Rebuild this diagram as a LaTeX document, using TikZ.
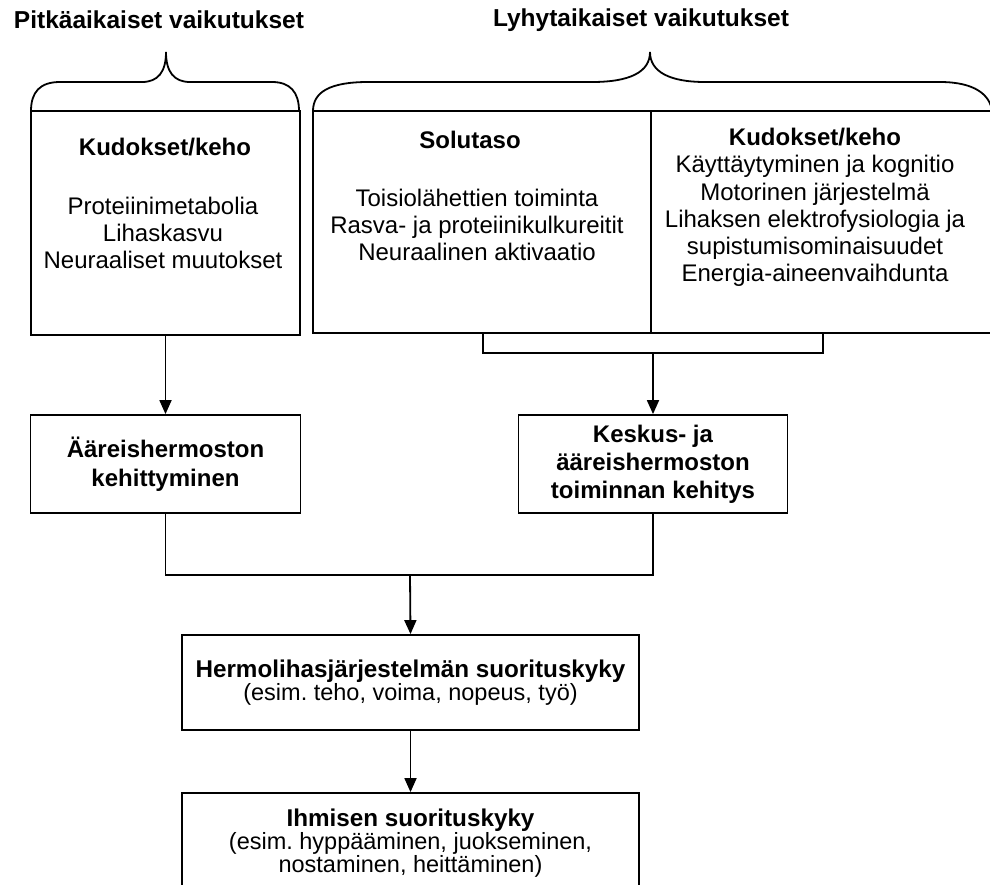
\documentclass[tikz,border=0pt]{standalone}
\usepackage{fontspec}
\setmainfont{Liberation Sans}
\usetikzlibrary{arrows.meta}
\frenchspacing
\begin{document}
\begin{tikzpicture}[x=1pt,y=-1pt,
  ln/.style={line width=1.8pt, line join=miter},
  box/.style={draw, ln, rectangle, inner sep=0pt},
  arr/.style={ln, -{Triangle[width=12pt,length=14pt]}},
  ttl/.style={font=\fontsize{24.5}{28}\selectfont\bfseries, inner sep=0pt},
  hdr/.style={font=\fontsize{24}{27}\selectfont\bfseries, inner sep=0pt},
  bdy/.style={font=\fontsize{24}{27.2}\selectfont, align=center, inner sep=0pt}
]
\useasboundingbox (0,0) rectangle (990,884);
\clip (0,0) rectangle (990,884);

% titles
\node[ttl] (t1) at (159,20) {Pitkäaikaiset vaikutukset};
\node[ttl] (t2) at (641,20) {Lyhytaikaiset vaikutukset};

% braces
\draw[ln] (31,111) .. controls (31,92) and (40,82) .. (60,82) -- (142,82)
  .. controls (158,82) and (166,72) .. (166,52)
  .. controls (166,72) and (174,82) .. (190,82) -- (272,82)
  .. controls (290,82) and (299,92) .. (299,111);
\draw[ln] (313,111) .. controls (313,92) and (330,82) .. (368,82) -- (592,82)
  .. controls (630,82) and (650,72) .. (650,52)
  .. controls (650,72) and (670,82) .. (705,82) -- (940,82)
  .. controls (975,82) and (990,95) .. (992,111);

% top boxes
\node[box, minimum width=269pt, minimum height=224pt] (lbox) at (165.5,223) {};
\node[box, minimum width=338pt, minimum height=222pt] (sol) at (482,222) {};
\node[box, minimum width=344pt, minimum height=222pt] (kud) at (823,222) {};

% texts in top boxes
\node[hdr] (lh) at (165,147) {Kudokset/keho};
\node[bdy] (lt) at (163,233) {Proteiinimetabolia\\Lihaskasvu\\Neuraaliset muutokset};
\node[hdr] (sh) at (470,140) {Solutaso};
\node[bdy] (st) at (477,225) {Toisiolähettien toiminta\\Rasva- ja proteiinikulkureitit\\Neuraalinen aktivaatio};
\node[hdr] (kh) at (815,137) {Kudokset/keho};
\node[bdy] (kt) at (815,221) {Käyttäytyminen ja kognitio\\Motorinen järjestelmä\\Lihaksen elektrofysiologia ja\\supistumisominaisuudet\\Energia-aineenvaihdunta};

% bracket under right boxes
\coordinate (brL) at (483,333);
\coordinate (brR) at (823,333);
\coordinate (brM) at (653,353);
\draw[ln] (brL) |- (brM) -| (brR);

% middle boxes
\node[box, minimum width=270pt, minimum height=98pt, align=center,
  font=\fontsize{24}{29}\selectfont\bfseries] (aar) at (165.5,464)
  {Ääreishermoston\\kehittyminen};
\node[box, minimum width=269pt, minimum height=98pt, align=center,
  font=\fontsize{24}{28}\selectfont\bfseries] (kes) at (653,464)
  {Keskus- ja\\ääreishermoston\\toiminnan kehitys};

\draw[arr] (lbox.south) -- (aar.north);
\draw[arr] (brM) -- (kes.north);

% junction
\coordinate (jn) at (410,575);
\draw[ln] (aar.south) |- (jn) -| (kes.south);

% lower boxes
\node[box, minimum width=457pt, minimum height=95pt] (her) at (410.5,682.5) {};
\node[inner sep=0pt, align=center] (ht) at (410.5,683)
  {{\fontsize{24.25}{31}\selectfont\bfseries Hermolihasjärjestelmän suorituskyky}\\
   {\fontsize{23.5}{31}\selectfont (esim. teho, voima, nopeus, työ)}};
\draw[arr] (jn) -- (her.north);

\node[box, minimum width=457pt, minimum height=140pt] (ihm) at (410.5,863) {};
\node[inner sep=0pt, align=center] (it) at (410.5,843)
  {{\fontsize{24.25}{27}\selectfont\bfseries Ihmisen suorituskyky}\\
   {\fontsize{23.5}{27}\selectfont (esim. hyppääminen, juokseminen,}\\
   {\fontsize{23.5}{27}\selectfont nostaminen, heittäminen)}};
\draw[arr] (her.south) -- (ihm.north);
\end{tikzpicture}
\end{document}
